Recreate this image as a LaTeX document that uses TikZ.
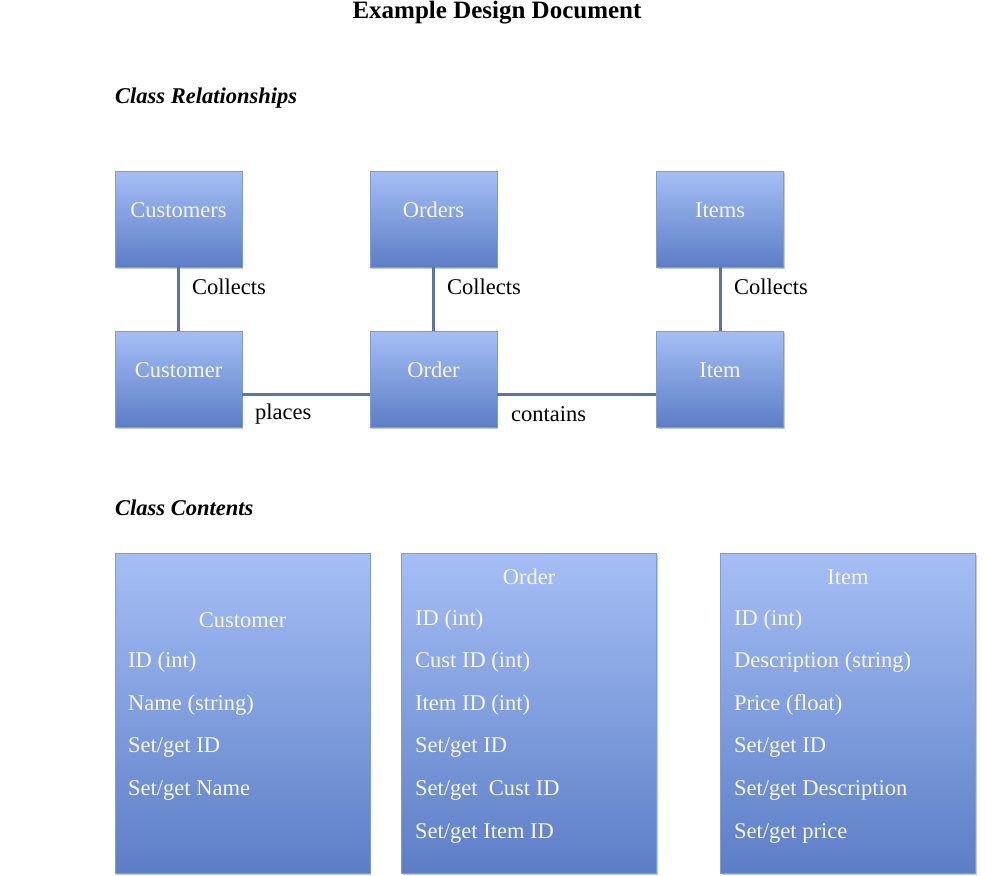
\documentclass[tikz,border=0pt]{standalone}
\usepackage{fontspec}
\setmainfont{Liberation Serif}
\usetikzlibrary{shadows}
\definecolor{boxtop}{RGB}{165,190,245}
\definecolor{boxbot}{RGB}{92,126,198}
\definecolor{boxedge}{RGB}{125,155,212}
\definecolor{linkc}{RGB}{88,116,168}
\definecolor{boxtext}{RGB}{246,249,255}
\tikzset{
  cls/.style={draw=boxedge, line width=0.8pt, top color=boxtop, bottom color=boxbot,
    minimum width=127pt, minimum height=96pt, inner sep=0pt,
    text height=14pt, text depth=18pt,
    drop shadow={opacity=0.35, shadow xshift=1.2pt, shadow yshift=-1.5pt, fill=black!60},
    text=boxtext, font=\fontsize{22.5}{24}\selectfont},
  big/.style={cls, minimum width=255pt, minimum height=320pt},
  link/.style={draw=linkc, line width=3pt},
  lbl/.style={font=\fontsize{22.5}{24}\selectfont, anchor=west, inner sep=0pt},
  line/.style={font=\fontsize{22.5}{24}\selectfont, text=boxtext, anchor=west, inner sep=0pt},
  ttl/.style={font=\fontsize{22.5}{24}\selectfont, text=boxtext, inner sep=0pt},
  head/.style={font=\fontsize{22.5}{24}\selectfont\bfseries\itshape, anchor=west, inner sep=0pt},
}
\begin{document}
\begin{tikzpicture}[x=1pt,y=-1pt]
\useasboundingbox (0,0) rectangle (987,875);
\node[font=\fontsize{25}{26}\selectfont\bfseries, anchor=base, inner sep=0pt] (title) at (497,19) {Example Design Document};
\node[head] (h1) at (115,98) {Class Relationships};
\node[head] (h2) at (115,508) {Class Contents};

\node[cls] (customers) at (178.5,219) {Customers};
\node[cls] (orders) at (433.5,219) {Orders};
\node[cls] (items) at (720,219) {Items};
\node[cls] (customer) at (178.5,379) {Customer};
\node[cls] (order) at (433.5,379) {Order};
\node[cls] (item) at (720,379) {Item};

\draw[link] (customers) -- (customer);
\draw[link] (orders) -- (order);
\draw[link] (items) -- (item);
\coordinate (c1) at (customer.east |- 0,394);
\coordinate (o1) at (order.west |- 0,394);
\coordinate (o2) at (order.east |- 0,394);
\coordinate (i1) at (item.west |- 0,394);
\draw[link] (c1) -- (o1);
\draw[link] (o2) -- (i1);

\node[lbl] (l1) at (192,287) {Collects};
\node[lbl] (l2) at (447,287) {Collects};
\node[lbl] (l3) at (734,287) {Collects};
\node[lbl] (l4) at (255,414) {places};
\node[lbl] (l5) at (511,414) {contains};

\node[big] (bcust) at (242.5,713) {};
\node[big] (bord) at (529,713) {};
\node[big] (bitem) at (848,713) {};

\node[ttl] (t1) at (242.5,620) {Customer};
\node[line] (a1) at (128,662) {ID (int)};
\node[line] (a2) at (128,705) {Name (string)};
\node[line] (a3) at (128,747) {Set/get ID};
\node[line] (a4) at (128,790) {Set/get Name};

\node[ttl] (t2) at (529,577) {Order};
\node[line] (b1) at (415,620) {ID (int)};
\node[line] (b2) at (415,662) {Cust ID (int)};
\node[line] (b3) at (415,705) {Item ID (int)};
\node[line] (b4) at (415,747) {Set/get ID};
\node[line] (b5) at (415,790) {Set/get\ \ Cust ID};
\node[line] (b6) at (415,833) {Set/get Item ID};

\node[ttl] (t3) at (848,577) {Item};
\node[line] (d1) at (734,620) {ID (int)};
\node[line] (d2) at (734,662) {Description (string)};
\node[line] (d3) at (734,705) {Price (float)};
\node[line] (d4) at (734,747) {Set/get ID};
\node[line] (d5) at (734,790) {Set/get Description};
\node[line] (d6) at (734,833) {Set/get price};
\end{tikzpicture}
\end{document}
